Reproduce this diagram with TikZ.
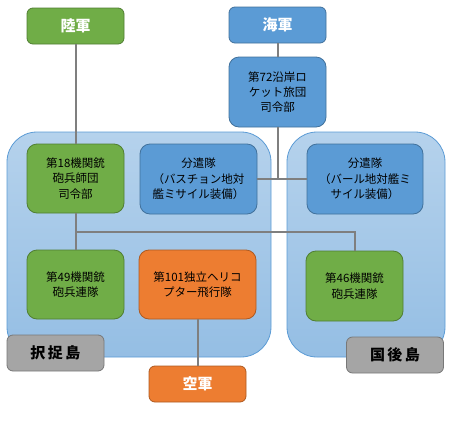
\documentclass[tikz,border=0pt]{standalone}
\usepackage{fontspec}
\setmainfont{Noto Sans CJK JP}
\usetikzlibrary{shadings}
\usetikzlibrary{calc}

\definecolor{rikuGreen}{HTML}{70AD47}
\definecolor{rikuEdge}{HTML}{507E32}
\definecolor{kaiBlue}{HTML}{5B9BD5}
\definecolor{kaiEdge}{HTML}{41719C}
\definecolor{kuOrange}{HTML}{ED7D31}
\definecolor{kuEdge}{HTML}{AE5A21}
\definecolor{islGray}{HTML}{A5A5A5}
\definecolor{islEdge}{HTML}{787878}
\definecolor{lineGray}{HTML}{7F7F7F}

\tikzset{
  unitbox/.style={rounded corners=10pt, line width=0.8pt, align=center,
    font=\fontsize{11.5}{15.3}\selectfont, inner sep=0pt},
  army/.style={unitbox, fill=rikuGreen, draw=rikuEdge},
  navy/.style={unitbox, fill=kaiBlue, draw=kaiEdge},
  airf/.style={unitbox, fill=kuOrange, draw=kuEdge},
  head/.style={rounded corners=6pt, minimum width=97pt, minimum height=36pt,
    text=white, font=\fontsize{15}{17}\selectfont\bfseries},
  islandtag/.style={rounded corners=6pt, line width=0.8pt, fill=islGray, draw=islEdge,
    minimum width=97pt, minimum height=36pt, font=\fontsize{15}{17}\selectfont\bfseries},
  island/.style={rounded corners=30pt, draw=kaiBlue, line width=0.8pt,
    top color=kaiBlue!45!white, bottom color=kaiBlue!65!white},
  link/.style={draw=lineGray, line width=2pt},
}

\begin{document}
\begin{tikzpicture}[x=1pt, y=-1pt]
  \useasboundingbox (0,0) rectangle (467,429);

  % island regions
  \draw[island] (7,132) rectangle (271,357);
  \draw[island] (287,132) rectangle (445,357);

  % headquarters
  \node[army, head] (riku) at (75.5,26) {陸軍};
  \node[navy, head] (kai) at (277.5,25) {海軍};
  \node[airf, head] (ku) at (197.5,384) {空軍};

  \node[navy, minimum width=97pt, minimum height=70pt] (brig72) at (277.5,92) {第72沿岸ロ\\ケット旅団\\司令部};

  % Iturup
  \node[army, minimum width=97pt, minimum height=69pt] (div18) at (75.5,178.5) {第18機関銃\\砲兵師団\\司令部};
  \node[navy, minimum width=117pt, minimum height=70pt] (detA) at (198.5,179) {分遣隊\\（バスチョン地対\\艦ミサイル装備）};
  \node[army, minimum width=97pt, minimum height=69pt] (reg49) at (75.5,284.5) {第49機関銃\\砲兵連隊};
  \node[airf, minimum width=117pt, minimum height=69pt] (heli101) at (197.5,284.5) {第101独立ヘリコ\\プター飛行隊};

  % Kunashir
  \node[navy, minimum width=116pt, minimum height=70pt] (detB) at (365,179) {分遣隊\\（バール地対艦ミ\\サイル装備）};
  \node[army, minimum width=97pt, minimum height=70pt] (reg46) at (354.5,286) {第46機関銃\\砲兵連隊};

  \node[islandtag] (etorofu) at (55.5,353) {択\,捉\,島};
  \node[islandtag] (kunashiri) at (395,355) {国\,後\,島};

  % links
  \coordinate (navyJoin) at (brig72.south |- detA.east);
  \coordinate (armyJoin) at ($(div18.south)!0.5!(reg49.north)$);
  \draw[link] (riku) -- (div18);
  \draw[link] (kai) -- (brig72);
  \draw[link] (brig72) -- (navyJoin);
  \draw[link] (detA) -- (detB);
  \draw[link] (div18) -- (reg49);
  \draw[link] (armyJoin) -| (reg46);
  \draw[link] (heli101) -- (ku);
\end{tikzpicture}
\end{document}
